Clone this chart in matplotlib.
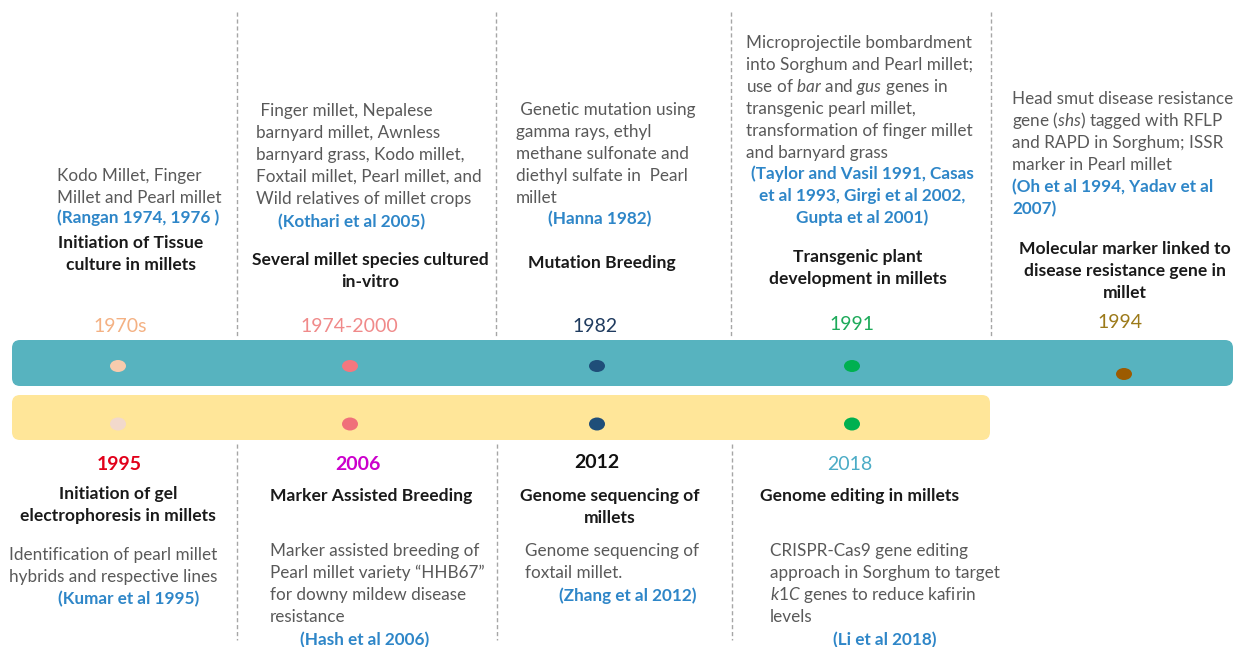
import matplotlib
matplotlib.use("Agg")
import matplotlib.pyplot as plt
from matplotlib.patches import FancyBboxPatch, Ellipse

plt.rcParams['font.family'] = ['Lato', 'DejaVu Sans']
plt.rcParams['mathtext.fontset'] = 'custom'
plt.rcParams['mathtext.rm'] = 'Lato'
plt.rcParams['mathtext.it'] = 'Lato:italic'

# ---- milestones on the upper (teal) track ----
top_years = ["1970s", "1974-2000", "1982", "1991", "1994"]
top_titles = [
    ["Initiation of Tissue", "culture in millets"],
    ["Several millet species cultured", "in-vitro"],
    ["Mutation Breeding"],
    ["Transgenic plant", "development in millets"],
    ["Molecular marker linked to", "disease resistance gene in", "millet"],
]
top_details = [
    ["Kodo Millet, Finger", "Millet and Pearl millet"],
    [" Finger millet, Nepalese", "barnyard millet, Awnless", "barnyard grass, Kodo millet,",
     "Foxtail millet, Pearl millet, and", "Wild relatives of millet crops"],
    [" Genetic mutation using", "gamma rays, ethyl", "methane sulfonate and",
     "diethyl sulfate in  Pearl", "millet"],
    ["Microprojectile bombardment", "into Sorghum and Pearl millet;",
     r"use of $\mathit{bar}$ and $\mathit{gus}$ genes in", "transgenic pearl millet,",
     "transformation of finger millet", "and barnyard grass"],
    ["Head smut disease resistance", r"gene ($\mathit{shs}$) tagged with RFLP",
     "and RAPD in Sorghum; ISSR", "marker in Pearl millet"],
]
top_refs = [
    ["(Rangan 1974, 1976 )"],
    ["(Kothari et al 2005)"],
    ["(Hanna 1982)"],
    ["(Taylor and Vasil 1991, Casas", "et al 1993, Girgi et al 2002,", "Gupta et al 2001)"],
    ["(Oh et al 1994, Yadav et al", "2007)"],
]

# ---- milestones on the lower (yellow) track ----
bottom_years = ["1995", "2006", "2012", "2018"]
bottom_titles = [
    ["Initiation of gel", "electrophoresis in millets"],
    ["Marker Assisted Breeding"],
    ["Genome sequencing of", "millets"],
    ["Genome editing in millets"],
]
bottom_details = [
    ["Identification of pearl millet", "hybrids and respective lines"],
    ["Marker assisted breeding of", "Pearl millet variety \u201cHHB67\u201d",
     "for downy mildew disease", "resistance"],
    ["Genome sequencing of", "foxtail millet."],
    ["CRISPR-Cas9 gene editing", "approach in Sorghum to target",
     r"$\mathit{k1C}$ genes to reduce kafirin", "levels"],
]
bottom_refs = [
    ["(Kumar et al 1995)"],
    ["(Hash et al 2006)"],
    ["(Zhang et al 2012)"],
    ["(Li et al 2018)"],
]

# ---- styling / layout ----
top_year_colors = ["#F4B183", "#F08A8A", "#1F3B5F", "#1DAA5A", "#9C7A1A"]
top_dot_colors = ["#F8CBAD", "#F4777F", "#1F4E79", "#00B050", "#9C5B00"]
bottom_year_colors = ["#E2001A", "#CC00CC", "#111111", "#4BACC6"]
bottom_dot_colors = ["#F2D9CC", "#F0707A", "#1F4E79", "#00B050"]
top_dot_x = [118, 350, 597, 852, 1124]
top_dot_y = [366, 366, 366, 366, 374]
bottom_dot_x = [118, 350, 597, 852]
bottom_dot_y = 424

GREY = "#595959"
BLUE = "#2E86C8"
DARK = "#1A1A1A"
STEP = 22
FS = 12.3
FS_B = 12.6

fig = plt.figure(figsize=(12.35, 6.47), dpi=100)
ax = fig.add_axes([0, 0, 1, 1])
ax.set_xlim(0, 1235)
ax.set_ylim(647, 0)
ax.axis('off')


def lines(x, y, txt, ha='left', color=GREY, weight='normal', size=FS):
    # y is the visual middle of the first line; draw on baselines so mathtext lines line up
    for i, t in enumerate(txt):
        ax.text(x, y + i * STEP + 5, t, ha=ha, va='baseline', color=color,
                fontsize=size, fontweight=weight)


# dashed separators
for x in [237, 496, 731, 991]:
    ax.plot([x, x], [12, 338], ls=(0, (3, 2)), color="#A6A6A6", lw=1)
for x in [237, 497, 732]:
    ax.plot([x, x], [444, 640], ls=(0, (3, 2)), color="#A6A6A6", lw=1)

# the two tracks
ax.add_patch(FancyBboxPatch((12, 340), 1221, 46, boxstyle="round,pad=0,rounding_size=8",
                            fc="#57B3BF", ec="none"))
ax.add_patch(FancyBboxPatch((12, 395), 978, 45, boxstyle="round,pad=0,rounding_size=8",
                            fc="#FFE699", ec="none"))

for x, y, c in zip(top_dot_x, top_dot_y, top_dot_colors):
    ax.add_patch(Ellipse((x, y), 16, 12, fc=c, ec="none"))
for x, c in zip(bottom_dot_x, bottom_dot_colors):
    ax.add_patch(Ellipse((x, bottom_dot_y), 16, 13, fc=c, ec="none"))

# upper texts: (detail x, y, ha), (ref x, y, ha), (title x, y, ha), year x, year y
top_layout = [
    ((57, 176, 'left'), (57, 218, 'left'), (131, 243, 'center'), 120, 326),
    ((256, 111, 'left'), (352, 222, 'center'), (370, 260, 'center'), 349, 326),
    ((516, 110, 'left'), (600, 219, 'center'), (528, 263, 'left'), 595, 326),
    ((746, 43, 'left'), (862, 174, 'center'), (858, 257, 'center'), 852, 324),
    ((1012, 99, 'left'), (1012, 187, 'left'), (1125, 249, 'center'), 1120, 322),
]
for i, (d, r, t, yx, yy) in enumerate(top_layout):
    lines(d[0], d[1], top_details[i], ha=d[2])
    lines(r[0], r[1], top_refs[i], ha=r[2], color=BLUE, weight='bold')
    lines(t[0], t[1], top_titles[i], ha=t[2], color=DARK, weight='bold', size=FS_B)
    ax.text(yx, yy, top_years[i], ha='center', va='center', fontsize=14,
            color=top_year_colors[i])

bottom_layout = [
    ((9, 555, 'left'), (129, 599, 'center'), (118, 494, 'center'), 119, 465, 'bold'),
    ((270, 551, 'left'), (365, 640, 'center'), (270, 496, 'left'), 358, 464, 'bold'),
    ((525, 551, 'left'), (628, 596, 'center'), (610, 496, 'center'), 597, 463, 'bold'),
    ((770, 551, 'left'), (885, 640, 'center'), (760, 496, 'left'), 850, 465, 'normal'),
]
for i, (d, r, t, yx, yy, w) in enumerate(bottom_layout):
    lines(d[0], d[1], bottom_details[i], ha=d[2])
    lines(r[0], r[1], bottom_refs[i], ha=r[2], color=BLUE, weight='bold')
    lines(t[0], t[1], bottom_titles[i], ha=t[2], color=DARK, weight='bold', size=FS_B)
    ax.text(yx, yy, bottom_years[i], ha='center', va='center', fontsize=14,
            color=bottom_year_colors[i], fontweight=w)

fig.savefig("out.png", dpi=100)
